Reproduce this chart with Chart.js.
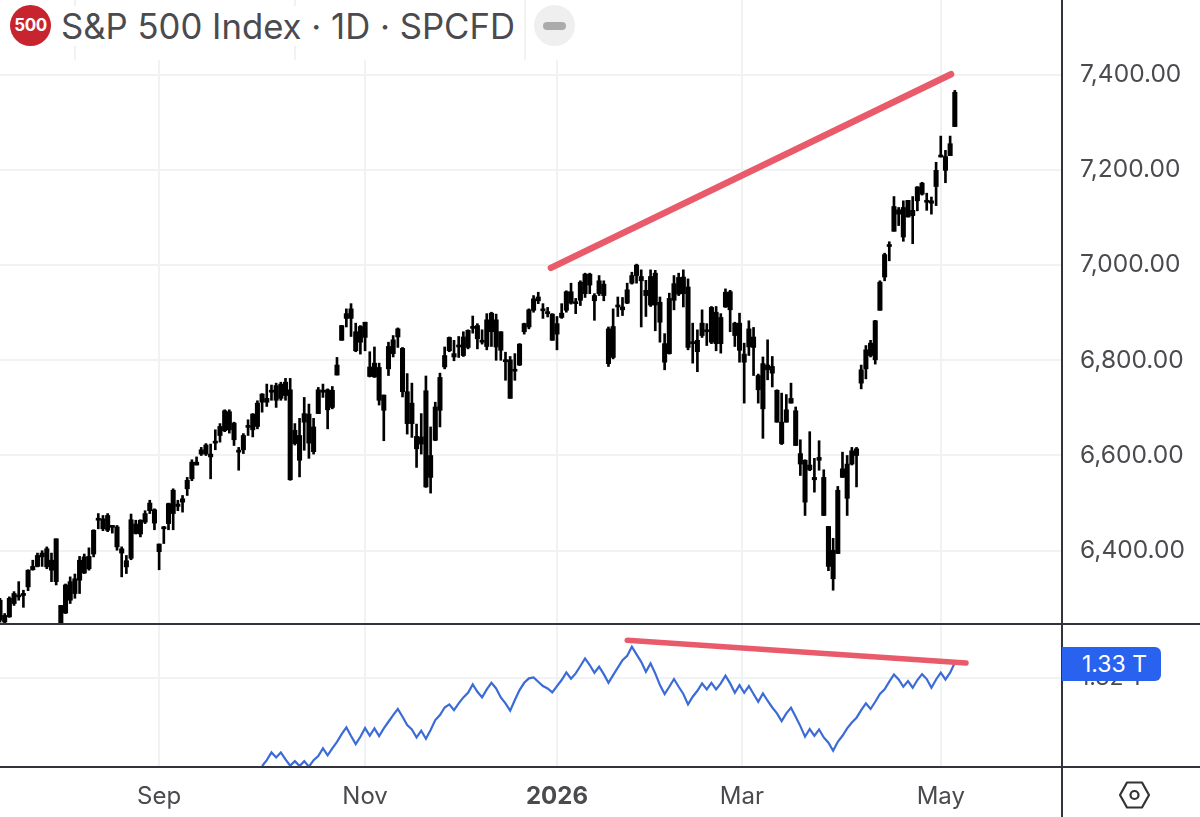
<!DOCTYPE html>
<html>
<head>
<meta charset="utf-8">
<title>S&amp;P 500 Index</title>
<script src="https://cdn.jsdelivr.net/npm/chart.js@4/dist/chart.umd.min.js"></script>
<style>
  html, body { margin: 0; padding: 0; background: #fff; }
  #page { position: relative; width: 1200px; height: 817px; overflow: hidden; font-family: Inter, "Liberation Sans", sans-serif; }
  #topPane { position: absolute; left: 0; top: 0; }
  #lowPane { position: absolute; left: 0; top: 624px; }
  .rule { position: absolute; background: #33333b; }
  #header { position: absolute; left: 0; top: 0; width: 580px; height: 60px; background: #fff; }
  .ghost { position: absolute; top: 0; width: 2px; height: 60px; background: #f0f3f2; }
  #logo { position: absolute; left: 10px; top: 5px; width: 41px; height: 41px; border-radius: 50%; background: #c8242f; color: #fff; font-size: 17px; font-weight: 700; line-height: 41px; text-align: center; letter-spacing: -0.5px; }
  #title { position: absolute; left: 61px; top: 6px; font-size: 34.7px; line-height: 40px; color: #4a4a4f; white-space: nowrap; background: #fff; }
  #hide { position: absolute; left: 534px; top: 5px; width: 41px; height: 41px; border-radius: 50%; background: #efefef; }
  #hide div { position: absolute; left: 9px; top: 17px; width: 23px; height: 8px; border-radius: 4px; background: #ababab; }
  #lastValue { position: absolute; left: 1062px; top: 647px; width: 99px; height: 34px; border-radius: 0 6px 6px 0; background: #2962ee; color: #fff; font-size: 23px; line-height: 34px; text-align: center; padding-left: 6px; box-sizing: border-box; }
  #gear { position: absolute; left: 1114px; top: 775px; }
</style>
</head>
<body>
<div id="page">
  <canvas id="topPane" width="1200" height="624"></canvas>
  <canvas id="lowPane" width="1200" height="193"></canvas>
  <div class="rule" style="left:0;top:623px;width:1200px;height:2px"></div>
  <div class="rule" style="left:0;top:766px;width:1200px;height:2px"></div>
  <div class="rule" style="left:1061px;top:0;width:2px;height:817px"></div>
  <div id="header">
    <div class="ghost" style="left:74px"></div>
    <div class="ghost" style="left:294px"></div>
    <div class="ghost" style="left:524px"></div>
  </div>
  <div id="logo">500</div>
  <div id="title">S&amp;P 500 Index · 1D · SPCFD</div>
  <div id="hide"><div></div></div>
  <div id="lastValue">1.33 T</div>
  <svg id="gear" width="40" height="40" viewBox="0 0 40 40">
    <polygon points="6,20 13,7.5 28,7.5 35,20 28,32.5 13,32.5" fill="none" stroke="#333" stroke-width="2.2" stroke-linejoin="round"/>
    <circle cx="20.5" cy="20" r="4" fill="none" stroke="#333" stroke-width="2.2"/>
  </svg>
</div>
<script>
// candle values, one entry per trading day
const high = [
  6300,6268,6303,6314,6335,6317,6360,6380,6395,6400,
  6408,6395,6425,6285,6330,6345,6351,6388,6393,6406,
  6444,6478,6474,6478,6453,6453,6408,6390,6477,6464,
  6465,6484,6506,6488,6414,6451,6500,6530,6506,6516,
  6554,6591,6597,6617,6625,6624,6654,6667,6696,6696,
  6670,6617,6646,6675,6688,6715,6730,6750,6748,6752,
  6754,6762,6762,6667,6678,6722,6708,6678,6743,6750,
  6740,6745,6806,6873,6908,6919,6878,6873,6880,6818,
  6828,6794,6727,6838,6852,6868,6827,6772,6752,6666,
  6688,6767,6660,6712,6773,6828,6849,6842,6850,6860,
  6864,6893,6877,6864,6898,6901,6897,6860,6817,6808,
  6814,6835,6878,6908,6936,6943,6919,6911,6898,6892,
  6919,6946,6962,6930,6967,6983,6983,6940,6978,6967,
  6870,6908,6933,6932,6962,6985,7002,6990,6968,6990,
  6989,6933,6856,6941,6978,6983,6990,6971,6878,6864,
  6906,6877,6913,6913,6898,6950,6947,6880,6899,6836,
  6883,6869,6771,6807,6843,6808,6738,6731,6728,6752,
  6702,6633,6591,6650,6594,6631,6570,6451,6426,6535,
  6607,6600,6617,6617,6790,6831,6842,6884,6967,7025,
  7049,7144,7121,7135,7136,7144,7165,7174,7151,7143,
  7216,7271,7241,7271,7367
];
const bodyTop = [
  6296,6264,6300,6310,6306,6310,6359,6367,6390,6395,
  6404,6380,6425,6285,6328,6335,6341,6380,6387,6388,
  6443,6467,6467,6474,6451,6450,6404,6379,6465,6456,
  6464,6478,6500,6486,6414,6450,6499,6527,6498,6509,
  6548,6586,6586,6612,6622,6603,6630,6661,6694,6692,
  6668,6610,6642,6660,6687,6710,6729,6720,6737,6747,
  6750,6754,6738,6653,6642,6688,6687,6660,6738,6737,
  6738,6737,6790,6873,6898,6908,6860,6871,6880,6786,
  6794,6785,6727,6829,6843,6866,6825,6734,6710,6640,
  6639,6736,6600,6702,6764,6810,6848,6814,6832,6849,
  6863,6871,6873,6842,6885,6899,6885,6860,6799,6801,
  6779,6834,6877,6906,6929,6933,6906,6901,6897,6877,
  6899,6944,6944,6922,6964,6981,6981,6936,6967,6960,
  6866,6871,6915,6912,6948,6978,7000,6976,6947,6976,
  6983,6922,6835,6930,6961,6974,6975,6954,6838,6842,
  6878,6863,6911,6901,6890,6943,6944,6878,6878,6813,
  6866,6849,6768,6793,6790,6787,6737,6670,6696,6720,
  6694,6604,6590,6580,6554,6596,6554,6451,6401,6527,
  6572,6582,6610,6614,6780,6822,6836,6883,6964,7022,
  7042,7123,7116,7121,7136,7115,7164,7172,7136,7135,
  7199,7230,7228,7255,7363
];
const bodyBottom = [
  6254,6250,6261,6289,6303,6306,6324,6360,6367,6387,
  6366,6359,6335,6247,6269,6296,6310,6338,6353,6362,
  6393,6464,6446,6443,6449,6408,6395,6366,6384,6436,
  6435,6460,6484,6458,6398,6446,6457,6478,6493,6502,
  6530,6551,6580,6603,6603,6597,6626,6642,6652,6654,
  6633,6607,6612,6659,6654,6661,6712,6712,6733,6716,
  6720,6726,6549,6625,6590,6670,6626,6608,6688,6733,
  6696,6701,6769,6842,6888,6888,6820,6838,6848,6766,
  6765,6716,6695,6782,6814,6849,6734,6667,6667,6614,
  6624,6534,6554,6632,6695,6786,6820,6807,6828,6810,
  6827,6867,6845,6838,6829,6860,6828,6821,6797,6720,
  6777,6790,6860,6870,6905,6925,6904,6898,6842,6855,
  6890,6905,6920,6919,6926,6940,6958,6925,6940,6936,
  6793,6806,6912,6906,6920,6962,6978,6967,6936,6916,
  6916,6880,6796,6814,6926,6939,6940,6827,6835,6818,
  6852,6860,6838,6835,6835,6912,6906,6852,6821,6796,
  6828,6827,6738,6698,6780,6773,6670,6625,6670,6710,
  6621,6582,6502,6570,6549,6590,6474,6367,6341,6394,
  6554,6510,6582,6600,6752,6782,6810,6801,6905,6975,
  7039,7071,7107,7059,7101,7104,7135,7149,7132,7130,
  7165,7227,7199,7230,7291
];
const low = [
  6250,6247,6260,6285,6296,6281,6316,6359,6366,6367,
  6362,6335,6328,6240,6268,6289,6300,6310,6352,6359,
  6387,6446,6442,6440,6437,6401,6345,6352,6381,6435,
  6429,6457,6478,6444,6360,6415,6444,6444,6484,6481,
  6516,6547,6580,6600,6600,6551,6612,6628,6650,6647,
  6621,6569,6604,6642,6639,6656,6691,6703,6716,6701,
  6716,6716,6548,6622,6555,6611,6594,6603,6688,6722,
  6656,6698,6769,6842,6870,6850,6818,6813,6820,6765,
  6764,6706,6631,6768,6807,6827,6723,6645,6638,6575,
  6603,6533,6521,6631,6660,6782,6818,6799,6806,6808,
  6824,6857,6824,6834,6822,6829,6800,6800,6758,6720,
  6758,6789,6855,6866,6901,6919,6888,6891,6842,6822,
  6888,6901,6918,6898,6915,6932,6940,6884,6936,6925,
  6787,6803,6892,6894,6919,6960,6962,6870,6892,6913,
  6862,6838,6780,6813,6906,6936,6912,6822,6794,6776,
  6848,6831,6835,6820,6815,6911,6860,6829,6796,6710,
  6810,6768,6710,6636,6759,6744,6670,6623,6670,6710,
  6621,6558,6474,6568,6523,6569,6474,6358,6317,6394,
  6554,6474,6580,6534,6740,6761,6807,6792,6905,6967,
  7009,7071,7083,7050,7101,7045,7114,7147,7115,7107,
  7125,7227,7173,7230,7291
];

// lower pane line, in billions, starts at candle 56
const volumeStart = 56;
const volume = [
  1257.2,1261.4,1266.9,1263.3,1266.9,1261.9,1257.4,1260.7,1257.2,1260.7,
  1256.7,1261.4,1264.3,1269.8,1264.8,1269.8,1274.5,1280.0,1284.8,1278.6,
  1272.9,1278.1,1284.3,1278.8,1284.1,1278.6,1284.1,1288.8,1293.6,1297.9,
  1292.4,1286.4,1283.3,1277.6,1282.4,1276.7,1282.9,1290.0,1293.6,1299.0,
  1301.2,1297.1,1301.9,1306.2,1309.5,1315.5,1310.2,1306.2,1311.9,1316.6,
  1312.6,1306.2,1301.9,1296.7,1304.3,1311.4,1316.6,1319.8,1320.5,1317.4,
  1314.3,1312.6,1309.8,1314.3,1318.6,1324.0,1319.5,1323.3,1328.6,1334.0,
  1329.3,1323.8,1328.1,1322.8,1316.6,1322.1,1327.4,1332.8,1335.9,1342.4,
  1336.9,1331.6,1324.5,1330.5,1323.3,1315.0,1308.6,1313.8,1319.3,1313.8,
  1308.6,1301.2,1306.7,1310.9,1316.2,1311.9,1316.6,1311.9,1316.2,1321.7,
  1316.2,1309.5,1315.0,1309.5,1314.3,1308.6,1303.1,1309.0,1303.8,1299.0,
  1294.8,1289.3,1294.8,1298.8,1292.4,1285.7,1278.1,1283.6,1278.8,1283.3,
  1277.6,1273.8,1268.1,1274.5,1278.8,1284.1,1288.3,1291.7,1297.1,1301.9,
  1297.9,1303.1,1308.6,1311.9,1317.4,1322.6,1319.0,1313.8,1317.8,1313.1,
  1318.6,1322.8,1319.3,1313.1,1319.0,1323.8,1319.0,1323.8,1330.9
];

// hand drawn trend lines
const priceTrendX = [117.7, 203.2];
const priceTrendY = [6994, 7401];
const volumeTrendX = [134, 206.4];
const volumeTrendY = [1347, 1330.7];

const dateTicks = [34, 78, 119, 158.5, 201];
const dateLabels = ["Sep", "Nov", "2026", "Mar", "May"];
const priceTicks = [6400, 6600, 6800, 7000, 7200, 7400];
const volumeTicks = [1320];

const gridColor = "#f0f3f2";
const textColor = "#4a4a4f";
const trendColor = "#e95b6b";

function noPadding(scale) {
  scale.paddingTop = 0;
  scale.paddingBottom = 0;
  scale.paddingLeft = 0;
  scale.paddingRight = 0;
}

function xAxis(showLabels) {
  return {
    type: "linear",
    min: 0,
    max: 226.9,
    offset: false,
    afterBuildTicks: (scale) => { scale.ticks = dateTicks.map((v) => ({ value: v })); },
    afterFit: (scale) => { scale.height = showLabels ? 50 : 0; noPadding(scale); },
    border: { display: false },
    grid: { color: gridColor, lineWidth: 2, drawTicks: false, offset: false },
    ticks: {
      display: showLabels,
      autoSkip: false,
      maxRotation: 0,
      padding: 15,
      color: textColor,
      font: (ctx) => ({ family: "Inter", size: 24, weight: ctx.index === 2 ? "700" : "400" }),
      callback: (value, i) => dateLabels[i]
    }
  };
}

function yAxis(min, max, tickValues, fontSize, format) {
  return {
    position: "right",
    min: min,
    max: max,
    afterBuildTicks: (scale) => { scale.ticks = tickValues.map((v) => ({ value: v })); },
    afterFit: (scale) => { scale.width = 138; noPadding(scale); },
    border: { display: false },
    grid: { color: gridColor, lineWidth: 2, drawTicks: false },
    ticks: { padding: 18, color: textColor, font: { family: "Inter", size: fontSize }, callback: format }
  };
}

const baseOptions = {
  responsive: false,
  animation: false,
  devicePixelRatio: 1,
  layout: { padding: 0 },
  plugins: { legend: { display: false }, tooltip: { enabled: false } }
};

const index = high.map((v, i) => i);

new Chart("topPane", {
  type: "bar",
  data: {
    datasets: [
      {
        label: "trend",
        type: "line",
        order: 0,
        data: priceTrendX.map((x, i) => ({ x: x, y: priceTrendY[i] })),
        borderColor: trendColor,
        borderWidth: 6.5,
        borderCapStyle: "round",
        pointRadius: 0
      },
      {
        label: "body",
        order: 1,
        data: index.map((i) => ({ x: i, y: [bodyBottom[i], bodyTop[i]] })),
        backgroundColor: "#000",
        barThickness: 4.4,
        minBarLength: 2,
        grouped: false
      },
      {
        label: "wick",
        order: 2,
        data: index.map((i) => ({ x: i, y: [low[i], high[i]] })),
        backgroundColor: "#000",
        barThickness: 2,
        grouped: false
      }
    ]
  },
  options: {
    ...baseOptions,
    scales: {
      x: xAxis(false),
      y: yAxis(6246, 7556.9, priceTicks, 24.5, (v) => v.toLocaleString("en-US", { minimumFractionDigits: 2 }))
    }
  }
});

new Chart("lowPane", {
  type: "line",
  data: {
    datasets: [
      {
        label: "trend",
        order: 0,
        data: volumeTrendX.map((x, i) => ({ x: x, y: volumeTrendY[i] })),
        borderColor: trendColor,
        borderWidth: 5.5,
        borderCapStyle: "round",
        pointRadius: 0
      },
      {
        label: "volume",
        order: 1,
        data: volume.map((v, i) => ({ x: volumeStart + i, y: v })),
        borderColor: "#3a6bd6",
        borderWidth: 2.2,
        pointRadius: 0,
        tension: 0
      }
    ]
  },
  options: {
    ...baseOptions,
    scales: {
      x: xAxis(true),
      y: yAxis(1256.5, 1358.6, volumeTicks, 23, (v) => (v / 1000).toFixed(2) + " T")
    }
  }
});
</script>
</body>
</html>
